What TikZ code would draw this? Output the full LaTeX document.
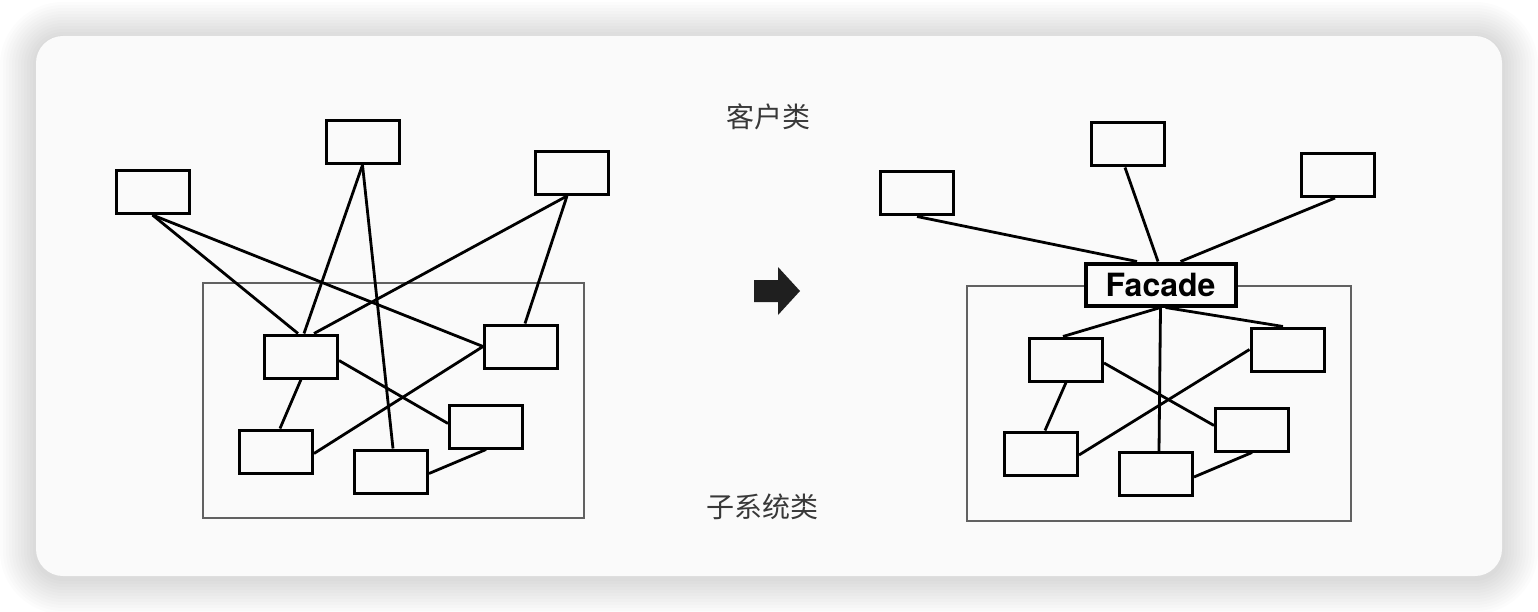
\documentclass[tikz,border=0pt]{standalone}
\usepackage{fontspec}
\newfontfamily\cjkfont{Noto Sans CJK SC}
\newfontfamily\facadefont{TeX Gyre Heros}
\definecolor{cardgray}{HTML}{FAFAFA}
\tikzset{
	cls/.style={draw, line width=3pt, minimum width=73pt, minimum height=43pt, inner sep=0pt},
	link/.style={line width=2.8pt},
	subframe/.style={draw=black!62, line width=2.4pt},
	cjklabel/.style={font=\cjkfont\fontsize{28}{30}\selectfont, text=black!78},
}

\begin{document}
\begin{tikzpicture}[x=1pt, y=-1pt]
				%%%%% CARD %%%%%
				\useasboundingbox[fill=white] (0,0) rectangle (1538,612);
				\foreach \s [evaluate=\s as \r using 27+3*\s] in {1,...,12}
					\fill[black, opacity=0.01, rounded corners=\r pt] (36-3*\s, 38-3*\s) rectangle (1502+3*\s, 578+3*\s);
				\fill[cardgray, rounded corners=27pt] (36,36) rectangle (1502,576);
				
				%%%%% BEFORE %%%%%
				\draw[subframe] (203,283) rectangle (584,518);
				
				\node[cls] (cla) at (152.5,192) {};
				\node[cls] (clb) at (362.5,142) {};
				\node[cls] (clc) at (572,173) {};
				
				\node[cls] (sba) at (301,356.5) {};
				\node[cls] (sbb) at (521,346.5) {};
				\node[cls] (sbc) at (276,451.5) {};
				\node[cls] (sbd) at (391,471.5) {};
				\node[cls] (sbe) at (486,426.5) {};
				
				\draw[link] (cla.south) -- ([xshift=-3pt]sba.north);
				\draw[link] (cla.south) -- (sbb.west);
				\draw[link] (clb.south) -- ([xshift=3pt]sba.north);
				\draw[link] (clb.south) -- ([xshift=2pt]sbd.north);
				\draw[link] ([xshift=-5pt]clc.south) -- ([xshift=13pt]sba.north);
				\draw[link] ([xshift=-5pt]clc.south) -- ([xshift=4pt]sbb.north);
				\draw[link] ([yshift=-4pt]sba.east) -- ([yshift=3pt]sbe.west);
				\draw[link] (sba.south) -- ([xshift=4pt]sbc.north);
				\draw[link] (sbb.west) -- ([yshift=-2pt]sbc.east);
				\draw[link] ([yshift=-2pt]sbd.east) -- (sbe.south);
				
				%%%%% MIDDLE %%%%%
				\node[cjklabel] (clientlbl) at (768,117) {客户类};
				\node[cjklabel] (subsyslbl) at (762,507) {子系统类};
				\fill[black!88] (754,280) -- (778,280) -- (778,267) -- (800,291) -- (778,315) -- (778,302) -- (754,302) -- cycle;
				
				%%%%% AFTER %%%%%
				\draw[subframe] (967,286) rectangle (1351,521);
				
				\node[cls] (cra) at (917,193.5) {};
				\node[cls] (crb) at (1127.5,144.5) {};
				\node[cls] (crc) at (1338,175) {};
				
				\node[draw, line width=4pt, fill=cardgray, minimum width=150pt, minimum height=42pt, inner sep=0pt,
					font=\facadefont\bfseries\fontsize{32}{34}\selectfont] (facade) at (1160.5,284.5) {Facade};
				
				\node[cls] (sra) at (1066,359.5) {};
				\node[cls] (srb) at (1287.5,349.5) {};
				\node[cls] (src) at (1041,453.5) {};
				\node[cls] (srd) at (1156,474) {};
				\node[cls] (sre) at (1252,429.5) {};
				
				\draw[link] (cra.south) -- ([xshift=-23.5pt]facade.north);
				\draw[link] ([xshift=-2.5pt]crb.south) -- ([xshift=-2.5pt]facade.north);
				\draw[link] ([xshift=-3pt]crc.south) -- ([xshift=20pt]facade.north);
				\draw[link] (facade.south) -- ([xshift=-3pt]sra.north);
				\draw[link] (facade.south) -- ([xshift=3pt]srd.north);
				\draw[link] ([xshift=5pt]facade.south) -- ([xshift=-4.5pt]srb.north);
				\draw[link] ([yshift=-3.5pt]sra.east) -- ([yshift=4pt]sre.west);
				\draw[link] (sra.south) -- ([xshift=4pt]src.north);
				\draw[link] (srb.west) -- ([yshift=-1.5pt]src.east);
				\draw[link] ([yshift=-3pt]srd.east) -- (sre.south);
				%%%%% END %%%%%
\end{tikzpicture}
\end{document}
